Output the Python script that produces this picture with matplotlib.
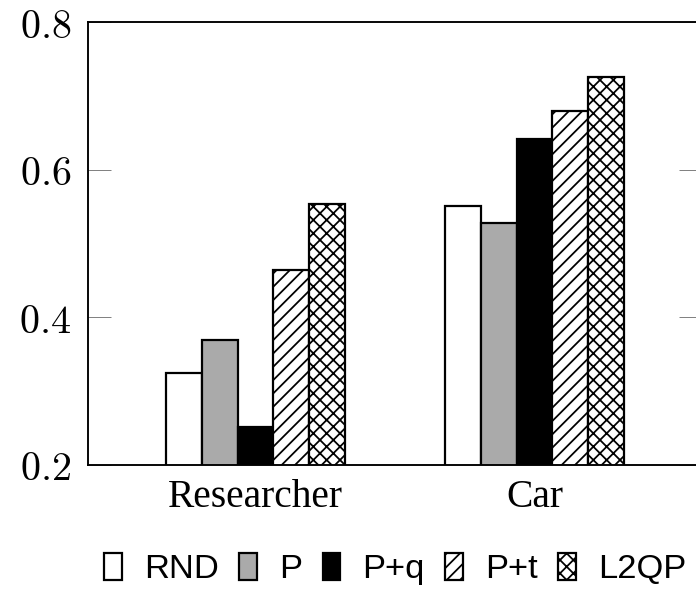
import numpy as np
import matplotlib
matplotlib.use("Agg")
import matplotlib.pyplot as plt

# data
groups = ["Researcher", "Car"]
methods = ["RND", "P", "P+q", "P+t", "L2QP"]
researcher = [0.325, 0.369, 0.252, 0.464, 0.553]
car = [0.551, 0.528, 0.641, 0.679, 0.726]
yticks = [0.2, 0.4, 0.6, 0.8]

faces = ["white", "#aaaaaa", "black", "white", "white"]
hatches = [None, None, None, "//", "xx"]

plt.rcParams["mathtext.fontset"] = "cm"
plt.rcParams["hatch.linewidth"] = 1.6

dpi = 80
fig = plt.figure(figsize=(696 / dpi, 591 / dpi), dpi=dpi)
ax = fig.add_axes([88 / 696, 126 / 591, 614 / 696, 443 / 591])

vals = np.array([researcher, car])
x = np.arange(len(groups))
w = 0.128
for i, m in enumerate(methods):
    ax.bar(x + (i - 2) * w, vals[:, i], width=w, color=faces[i],
           edgecolor="black", linewidth=2.0, hatch=hatches[i], label=m)

ax.set_xlim(-0.6, 1.6)
ax.set_ylim(0.2, 0.8)
ax.set_xticks(x)
ax.set_xticklabels(groups, family="Liberation Serif", fontsize=35.5)
ax.set_yticks(yticks)
ax.set_yticklabels([f"${v:.1f}$" for v in yticks], fontsize=36)
ax.tick_params(axis="x", length=0, pad=13)
ax.tick_params(axis="y", direction="in", length=21, width=0.8, color="0.45",
               right=True, pad=15)
for s in ax.spines.values():
    s.set_linewidth(1.7)

ax.legend(loc="center", bbox_to_anchor=(0.568, 0.037), bbox_transform=fig.transFigure,
          ncol=5, frameon=False, prop={"family": "Liberation Sans", "size": 31},
          handlelength=0.5, handleheight=0.82, handletextpad=0.65,
          columnspacing=0.6, borderpad=0, borderaxespad=0)

fig.savefig("out.png", dpi=dpi)
